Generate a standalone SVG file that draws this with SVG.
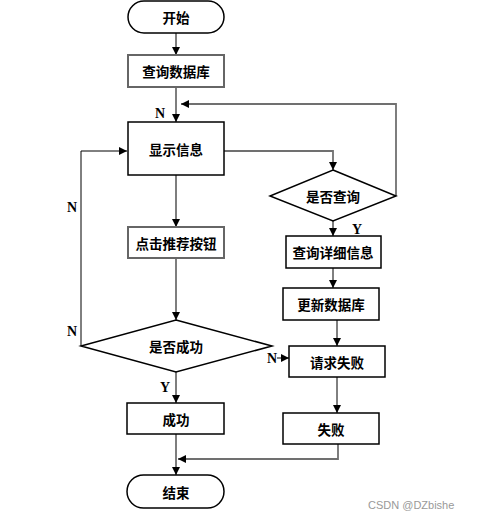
<svg xmlns="http://www.w3.org/2000/svg" width="478" height="517" viewBox="0 0 478 517">
<style>
.box{fill:#fff;stroke:#000;stroke-width:1.5}
.gbox{fill:#fff;stroke:#666;stroke-width:2}
.t{font-family:"Noto Sans CJK SC","Liberation Sans",sans-serif;font-weight:bold;font-size:13.5px;text-anchor:middle;dominant-baseline:central;fill:#000}
.lbl{font-family:"Liberation Serif",serif;font-weight:bold;font-size:14px;fill:#000}
.g{fill:none;stroke:#707070;stroke-width:1.8}
.k{fill:none;stroke:#000;stroke-width:1}
</style>
<defs>
<marker id="ah" viewBox="0 0 10 10" refX="10" refY="5" markerWidth="8" markerHeight="8" markerUnits="userSpaceOnUse" orient="auto">
<path d="M0,0 L10,5 L0,10 Z" fill="#000"/>
</marker>
</defs>
<rect width="478" height="517" fill="#fff"/>
<g id="connectors">
<path class="g" d="M176,33 V55" marker-end="url(#ah)"/>
<path class="g" d="M176,87 V122" marker-end="url(#ah)"/>
<path class="g" d="M396,196 V104 H181" marker-end="url(#ah)"/>
<path class="g" d="M224,151 H333 V170" marker-end="url(#ah)"/>
<path class="k" d="M81,346 V151 H127" marker-end="url(#ah)"/>
<path class="g" d="M176,175 V227" marker-end="url(#ah)"/>
<path class="g" d="M176,258 V320" marker-end="url(#ah)"/>
<path class="g" d="M176,372 V403" marker-end="url(#ah)"/>
<path class="g" d="M176,434 V475" marker-end="url(#ah)"/>
<path class="g" d="M333,221 V236" marker-end="url(#ah)"/>
<path class="k" d="M333,268 V288" marker-end="url(#ah)"/>
<path class="k" d="M337,320 V346" marker-end="url(#ah)"/>
<path class="k" d="M277,358 H289" marker-end="url(#ah)"/>
<path class="k" d="M337,377 V413" marker-end="url(#ah)"/>
<path class="g" d="M338,444 V459 H178" marker-end="url(#ah)"/>
</g>
<g id="start"><rect x="128" y="1" width="96" height="32" rx="16" class="box" stroke-width="1"/><text class="t" x="176" y="17">开始</text></g>
<g id="query-db"><rect x="128" y="55" width="96" height="32" class="gbox"/><text class="t" x="176" y="71">查询数据库</text></g>
<g id="show-info"><rect x="128" y="122" width="96" height="53" class="box" stroke-width="2.5"/><text class="t" x="176" y="149">显示信息</text></g>
<g id="is-query"><polygon points="333,170 396,196 333,221 270,196" class="box" stroke-width="1"/><text class="t" x="333" y="196">是否查询</text></g>
<g id="query-detail"><rect x="286" y="236" width="95" height="32" class="box"/><text class="t" x="333" y="252">查询详细信息</text></g>
<g id="update-db"><rect x="283" y="288" width="96" height="32" class="box"/><text class="t" x="331" y="304">更新数据库</text></g>
<g id="req-fail"><rect x="289" y="346" width="96" height="31" class="box"/><text class="t" x="337" y="362">请求失败</text></g>
<g id="fail"><rect x="283" y="413" width="96" height="31" class="box"/><text class="t" x="331" y="429">失败</text></g>
<g id="click-btn"><rect x="128" y="227" width="96" height="31" class="gbox"/><text class="t" x="176" y="243">点击推荐按钮</text></g>
<g id="is-success"><polygon points="176,320 272,346 176,372 81,346" class="box" stroke-width="1"/><text class="t" x="176" y="346">是否成功</text></g>
<g id="success"><rect x="127" y="403" width="97" height="31" class="box"/><text class="t" x="176" y="419">成功</text></g>
<g id="end"><rect x="127" y="475" width="97" height="33" rx="16.5" class="box" stroke-width="1"/><text class="t" x="176" y="492">结束</text></g>
<g id="labels">
<text class="lbl" x="155" y="118">N</text>
<text class="lbl" x="352" y="234">Y</text>
<text class="lbl" x="67" y="212">N</text>
<text class="lbl" x="67" y="336">N</text>
<text class="lbl" x="160" y="392">Y</text>
<text class="lbl" x="267" y="363">N</text>
<text x="368" y="509" font-family="'Liberation Sans',sans-serif" font-size="11" fill="#999">CSDN @DZbishe</text>
</g>
</svg>
